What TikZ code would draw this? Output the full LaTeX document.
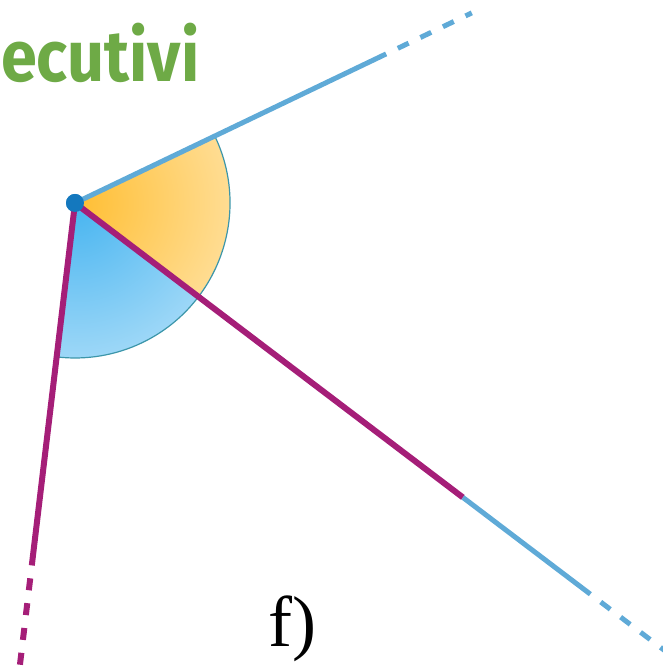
\documentclass[tikz,border=0pt]{standalone}
\usepackage{fontspec}
\setmainfont{Liberation Serif}
\newfontfamily\headfont{Fira Sans}
\usepackage{tikz}
\usetikzlibrary{positioning}
\definecolor{raycyan}{RGB}{95,170,215}
\definecolor{raymagenta}{RGB}{165,30,120}
\definecolor{arcteal}{RGB}{60,150,170}
\definecolor{dotblue}{RGB}{20,120,190}
\definecolor{fillorange}{RGB}{255,190,50}
\definecolor{fillblue}{RGB}{70,180,240}
\definecolor{headgreen}{RGB}{110,170,70}
\tikzset{
  ray/.style={line width=5pt, color=raycyan},
  sideray/.style={line width=6pt, color=raymagenta},
  tail/.style={dash pattern=on 12pt off 13pt, dash phase=12pt},
  vertexdot/.style={circle, fill=dotblue, inner sep=0pt, minimum size=18pt},
  anglearc/.style={line width=1.2pt, color=arcteal},
  headtext/.style={font=\headfont\bfseries\fontsize{72}{72}\selectfont, text=headgreen,
    inner sep=0pt, xscale=0.9},
  tagtext/.style={font=\fontsize{72}{72}\selectfont, inner sep=0pt},
}

\begin{document}
\begin{tikzpicture}[x=1pt, y=1pt]
  \useasboundingbox (0,0) rectangle (662,672);

  \node[vertexdot] (O) at (75,469) {};
  \coordinate (B1) at ([shift={(25.6:345pt)}]O.center);
  \coordinate (B2) at ([shift={(25.6:440pt)}]O.center);
  \coordinate (M1) at ([shift={(-37.2:487pt)}]O.center);
  \coordinate (M2) at ([shift={(-37.2:647pt)}]O.center);
  \coordinate (M3) at ([shift={(-37.2:745pt)}]O.center);
  \coordinate (L1) at ([shift={(-96.8:365pt)}]O.center);
  \coordinate (L2) at ([shift={(-96.8:478pt)}]O.center);

  % shaded angle sectors
  \begin{scope}
    \clip (O.center) -- ++(25.6:155pt) arc[start angle=25.6, end angle=-37.2, radius=155pt] -- cycle;
    \shade[inner color=fillorange, outer color=white] (O.center) circle (330pt);
  \end{scope}
  \begin{scope}
    \clip (O.center) -- ++(-37.2:155pt) arc[start angle=-37.2, end angle=-96.8, radius=155pt] -- cycle;
    \shade[inner color=fillblue, outer color=white] (O.center) circle (330pt);
  \end{scope}
  \draw[anglearc] ([shift={(25.6:155pt)}]O.center) arc[start angle=25.6, end angle=-96.8, radius=155pt];

  \draw[ray] (O.center) -- (B1);
  \draw[ray, tail] (B1) -- (B2);
  \draw[sideray] (O.center) -- (M1);
  \draw[ray] (M1) -- (M2);
  \draw[ray, tail] (M2) -- (M3);
  \draw[sideray] (O.center) -- (L1);
  \draw[sideray, tail] (L1) -- (L2);
  \node[vertexdot] at (O) {};

  \node[headtext, anchor=base west] (head) at (1,590) {ecutivi};
  \node[tagtext, anchor=base west] (tag) at (268,25) {f)};
\end{tikzpicture}
\end{document}
